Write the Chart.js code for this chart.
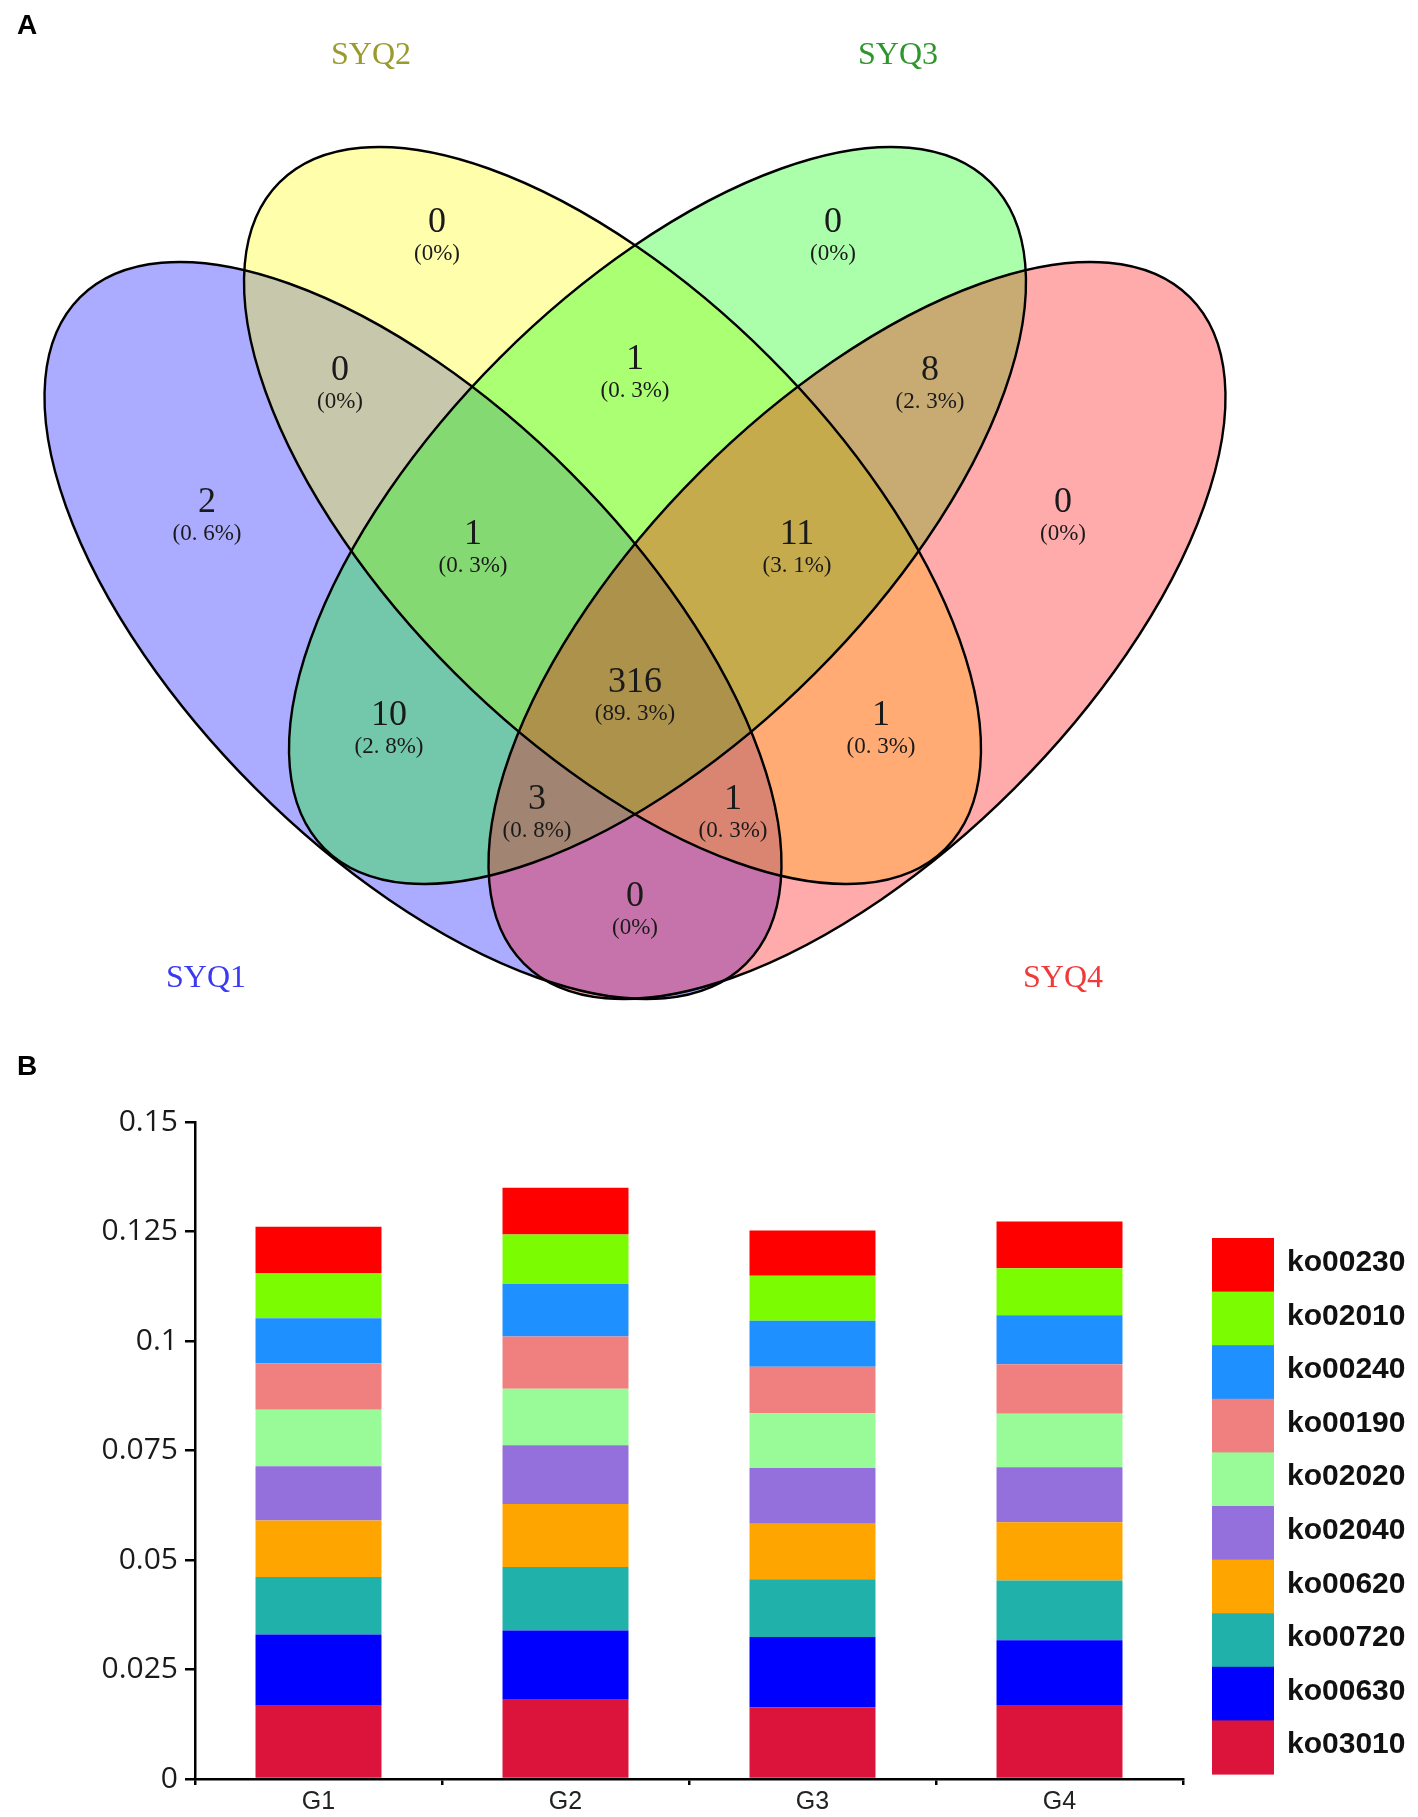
<!DOCTYPE html>
<html>
<head>
<meta charset="utf-8">
<title>SYQ Venn diagram and KEGG pathway abundance</title>
<script src="https://cdn.jsdelivr.net/npm/chart.js@4.4.1/dist/chart.umd.min.js"></script>
<style>
  body { margin: 0; background: #fff; }
  canvas { display: block; }
</style>
</head>
<body>
<canvas id="vennChart" width="1418" height="1040"></canvas>
<canvas id="barChart" width="1418" height="777"></canvas>
<script>
// ---------- panel A data ----------
const setNames = ["SYQ1", "SYQ2", "SYQ3", "SYQ4"];
// regions, by the sets they belong to
const regionSets = ["1", "2", "3", "4", "12", "34", "23", "123", "234", "13", "24", "1234", "134", "124", "14"];
const regionCounts = [2, 0, 0, 0, 0, 8, 1, 1, 11, 10, 1, 316, 3, 1, 0];
const regionPercents = ["(0. 6%)", "(0%)", "(0%)", "(0%)", "(0%)", "(2. 3%)", "(0. 3%)", "(0. 3%)",
                        "(3. 1%)", "(2. 8%)", "(0. 3%)", "(89. 3%)", "(0. 8%)", "(0. 3%)", "(0%)"];

// ---------- panel B data ----------
const groups = ["G1", "G2", "G3", "G4"];
const yTickLabels = ["0", "0.025", "0.05", "0.075", "0.1", "0.125", "0.15"];
// stacked bottom -> top
const ko03010 = [0.0167, 0.0181, 0.0163, 0.0169];
const ko00630 = [0.0163, 0.0158, 0.0161, 0.0148];
const ko00720 = [0.0131, 0.0145, 0.0132, 0.0136];
const ko00620 = [0.0129, 0.0144, 0.0127, 0.0133];
const ko02040 = [0.0124, 0.0134, 0.0127, 0.0126];
const ko02020 = [0.0129, 0.0129, 0.0125, 0.0122];
const ko00190 = [0.0106, 0.0119, 0.0106, 0.0113];
const ko00240 = [0.0103, 0.0120, 0.0105, 0.0112];
const ko02010 = [0.0103, 0.0113, 0.0103, 0.0107];
const ko00230 = [0.0106, 0.0107, 0.0103, 0.0107];

// ---------- layout / style ----------
const vennFills = ["rgba(0,0,255,0.33)", "rgba(255,255,0,0.33)", "rgba(0,255,0,0.33)", "rgba(255,0,0,0.33)"];
const setLabelColors = ["#3a3af2", "#9a9a2e", "#2f962f", "#ef3a3a"];
// ellipse geometry in diagram units (1 unit = 1 px of the panel)
const ellA = 471, ellB = 223;
const vennEllipses = [
  { cx: 413, cy: 630.5, rot: 45 },
  { cx: 612.5, cy: 515.5, rot: 45 },
  { cx: 657.5, cy: 515.5, rot: -45 },
  { cx: 857, cy: 630.5, rot: -45 }
];
const regionAnchors = [
  [207, 503], [437, 223], [833, 223], [1063, 503], [340, 371], [930, 371], [635, 360],
  [473, 535], [797, 535], [389, 716], [881, 716], [635, 683], [537, 800], [733, 800], [635, 897]
];
const setLabelAnchors = [[206, 979], [371, 56], [898, 56], [1063, 979]];
const barColors = ["#DC143C", "#0000FF", "#20B2AA", "#FFA500", "#9370DB",
                   "#98FB98", "#F08080", "#1E90FF", "#7CFC00", "#FF0000"];

function panelLetter(ctx, letter, x, y) {
    ctx.save();
    ctx.font = "bold 28px 'Liberation Sans', Arial, sans-serif";
    ctx.fillStyle = "#000";
    ctx.textAlign = "center";
    ctx.textBaseline = "middle";
    ctx.fillText(letter, x, y);
    ctx.restore();
}

// draws the four ellipses under the (invisible) anchor points, then the texts on top
const vennPlugin = {
    id: "venn",
    beforeDatasetsDraw(chart) {
        const { ctx, scales: { x, y } } = chart;
        const k = x.getPixelForValue(1) - x.getPixelForValue(0);
        ctx.save();
        vennEllipses.forEach((e, i) => {
            ctx.beginPath();
            ctx.ellipse(x.getPixelForValue(e.cx), y.getPixelForValue(e.cy), ellA * k, ellB * k,
                        e.rot * Math.PI / 180, 0, 2 * Math.PI);
            ctx.fillStyle = vennFills[i];
            ctx.fill();
        });
        ctx.lineWidth = 2.4;
        ctx.strokeStyle = "#000";
        vennEllipses.forEach(e => {
            ctx.beginPath();
            ctx.ellipse(x.getPixelForValue(e.cx), y.getPixelForValue(e.cy), ellA * k, ellB * k,
                        e.rot * Math.PI / 180, 0, 2 * Math.PI);
            ctx.stroke();
        });
        ctx.restore();
    },
    afterDatasetsDraw(chart) {
        const { ctx, scales: { x, y } } = chart;
        const pts = chart.getDatasetMeta(0).data;
        ctx.save();
        ctx.textAlign = "center";
        ctx.textBaseline = "middle";
        ctx.fillStyle = "#1a1a1a";
        pts.forEach((pt, i) => {
            ctx.font = "36px 'Liberation Serif', serif";
            ctx.fillText(String(regionCounts[i]), pt.x, pt.y);
            ctx.font = "23px 'Liberation Serif', serif";
            ctx.fillText(regionPercents[i], pt.x, pt.y + 31);
        });
        ctx.font = "32px 'Liberation Serif', serif";
        setNames.forEach((name, i) => {
            ctx.fillStyle = setLabelColors[i];
            ctx.fillText(name, x.getPixelForValue(setLabelAnchors[i][0]), y.getPixelForValue(setLabelAnchors[i][1]));
        });
        ctx.restore();
        panelLetter(ctx, "A", 27, 26);
    }
};

new Chart(document.getElementById("vennChart"), {
    type: "scatter",
    data: {
        datasets: [{
            label: "regions",
            data: regionAnchors.map(p => ({ x: p[0], y: p[1] })),
            pointRadius: 0
        }]
    },
    options: {
        responsive: false,
        animation: false,
        events: [],
        layout: { padding: 0 },
        plugins: { legend: { display: false }, tooltip: { enabled: false } },
        scales: {
            x: { type: "linear", min: 0, max: 1418, display: false },
            y: { type: "linear", min: 0, max: 1040, reverse: true, display: false }
        }
    },
    plugins: [vennPlugin]
});

// legend drawn as one continuous column of colour blocks, top dataset first
const sideLegend = {
    id: "sideLegend",
    afterDraw(chart) {
        const { ctx, chartArea } = chart;
        const sets = chart.data.datasets;
        const n = sets.length;
        const h = 53.6;
        const top = chartArea.bottom - 5 - n * h;
        const left = chartArea.right + 29;
        ctx.save();
        ctx.font = "bold 30px 'Liberation Sans', Arial, sans-serif";
        ctx.textBaseline = "middle";
        ctx.textAlign = "left";
        for (let i = 0; i < n; i++) {
            const ds = sets[n - 1 - i];
            const y0 = top + i * h;
            ctx.fillStyle = ds.backgroundColor;
            ctx.fillRect(left, y0, 62, h + 0.6);
            ctx.fillStyle = "#111";
            ctx.fillText(ds.label, left + 75, y0 + h / 2 - 2);
        }
        ctx.restore();
        panelLetter(ctx, "B", 27, 27);
    }
};

const series = [ko03010, ko00630, ko00720, ko00620, ko02040, ko02020, ko00190, ko00240, ko02010, ko00230];
const seriesNames = ["ko03010", "ko00630", "ko00720", "ko00620", "ko02040", "ko02020", "ko00190", "ko00240", "ko02010", "ko00230"];

new Chart(document.getElementById("barChart"), {
    type: "bar",
    data: {
        labels: groups,
        datasets: series.map((vals, i) => ({
            label: seriesNames[i],
            data: vals,
            backgroundColor: barColors[i],
            borderWidth: 0,
            barPercentage: 0.51,
            categoryPercentage: 1
        }))
    },
    options: {
        responsive: false,
        animation: false,
        events: [],
        layout: { padding: { top: 82, right: 235, left: 0, bottom: 0 } },
        plugins: { legend: { display: false }, tooltip: { enabled: false } },
        scales: {
            x: {
                stacked: true,
                grid: { offset: true, drawOnChartArea: false, drawTicks: true, tickLength: 6, color: "#000", lineWidth: 2.5 },
                border: { display: true, color: "#000", width: 2.5 },
                ticks: { font: { family: "'Liberation Sans', Arial, sans-serif", size: 25 }, color: "#222", padding: 2 },
                afterFit(scale) { scale.height = 38; }
            },
            y: {
                stacked: true,
                min: 0,
                max: 0.15,
                grid: { drawOnChartArea: false, drawTicks: true, tickLength: 10, color: "#000", lineWidth: 2.5 },
                border: { display: true, color: "#000", width: 2.5 },
                ticks: {
                    stepSize: 0.025,
                    callback: (v, i) => yTickLabels[i],
                    font: { family: "'Open Sans', sans-serif", size: 30 },
                    color: "#1a1a1a",
                    padding: 7
                },
                afterFit(scale) { scale.width = 195; }
            }
        }
    },
    plugins: [sideLegend]
});
</script>
</body>
</html>
